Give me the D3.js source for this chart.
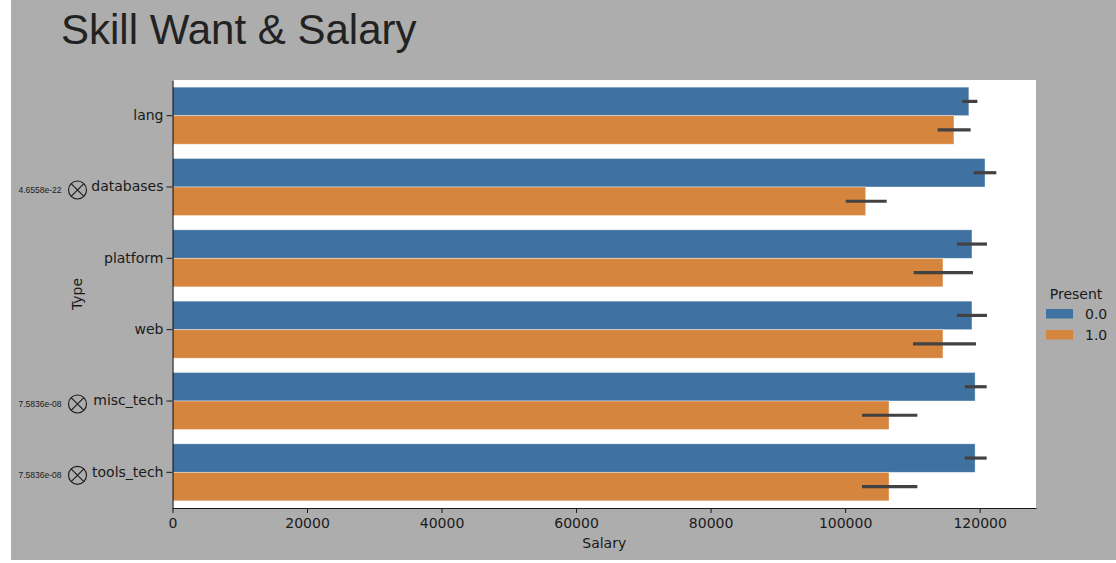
<!DOCTYPE html>
<html>
<head>
<meta charset="utf-8">
<script src="https://cdn.jsdelivr.net/npm/d3@7"></script>
<style>
  body { margin: 0; background: #ffffff; }
  svg text { font-family: "DejaVu Sans", sans-serif; fill: #1a1a1a; }
  .axis path, .axis line { stroke: #1a1a1a; }
</style>
</head>
<body>
<svg id="chart"></svg>
<script>
// DATA //////////////////////////////////////////////////////////////////
var categories = ["lang", "databases", "platform", "web", "misc_tech", "tools_tech"];
var presentLevels = ["0.0", "1.0"];
var salary_absent = [118400, 120800, 118860, 118860, 119330, 119330];
var ci_absent_lo = [117430, 119110, 116630, 116630, 117780, 117780];
var ci_absent_hi = [119660, 122480, 121090, 121090, 121050, 121050];
var salary_present = [116180, 103060, 114550, 114550, 106530, 106530];
var ci_present_lo = [113760, 100090, 110190, 110090, 102510, 102510];
var ci_present_hi = [118660, 106180, 119010, 119450, 110740, 110740];
var pvalues = [null, "4.6558e-22", null, null, "7.5836e-08", "7.5836e-08"];
var xTicks = [0, 20000, 40000, 60000, 80000, 100000, 120000];

// LAYOUT ////////////////////////////////////////////////////////////////
const WIDTH = 1116, HEIGHT = 563;
const PLOT_LEFT = 172.5, PLOT_TOP = 80, PLOT_RIGHT = 1036, PLOT_BOTTOM = 508;
const COLOURS = ["#3f72a0", "#d6853e"];

var svg = d3.select("#chart").attr("width", WIDTH).attr("height", HEIGHT);

// grey figure background
svg.append("rect").attr("x", 11).attr("y", 0).attr("width", WIDTH - 11).attr("height", 560)
    .attr("fill", "#adadad");

svg.append("text")
    .attr("x", 61).attr("y", 44)
    .style("font-family", "'Liberation Sans', Arial, sans-serif")
    .style("font-size", "42px")
    .style("fill", "#222")
    .text("Skill Want & Salary");

// plot area
svg.append("rect")
    .attr("x", PLOT_LEFT).attr("y", PLOT_TOP)
    .attr("width", PLOT_RIGHT - PLOT_LEFT).attr("height", PLOT_BOTTOM - PLOT_TOP)
    .attr("fill", "#ffffff");

var x = d3.scaleLinear().domain([0, 128380]).range([PLOT_LEFT, PLOT_RIGHT]);
var y = d3.scaleBand().domain(categories).range([PLOT_TOP, PLOT_BOTTOM]).paddingInner(0.2).paddingOuter(0.1);
var yInner = d3.scaleBand().domain(presentLevels).range([0, y.bandwidth()]);
var colour = d3.scaleOrdinal().domain(presentLevels).range(COLOURS);

var rows = categories.map(function (c, i) {
    return [
        { cat: c, level: "0.0", value: salary_absent[i], lo: ci_absent_lo[i], hi: ci_absent_hi[i] },
        { cat: c, level: "1.0", value: salary_present[i], lo: ci_present_lo[i], hi: ci_present_hi[i] }
    ];
});
var flat = [].concat.apply([], rows);

// bars
svg.append("g")
    .selectAll("rect")
    .data(flat)
    .enter().append("rect")
        .attr("x", x(0))
        .attr("y", function (d) { return y(d.cat) + yInner(d.level); })
        .attr("width", function (d) { return x(d.value) - x(0); })
        .attr("height", yInner.bandwidth())
        .attr("fill", function (d) { return colour(d.level); })
        .attr("stroke", "#ffffff")
        .attr("stroke-opacity", 0.5)
        .attr("stroke-width", 0.8);

// error bars
svg.append("g")
    .selectAll("line")
    .data(flat)
    .enter().append("line")
        .attr("x1", function (d) { return x(d.lo); })
        .attr("x2", function (d) { return x(d.hi); })
        .attr("y1", function (d) { return y(d.cat) + yInner(d.level) + yInner.bandwidth() / 2; })
        .attr("y2", function (d) { return y(d.cat) + yInner(d.level) + yInner.bandwidth() / 2; })
        .attr("stroke", "#424242")
        .attr("stroke-width", 3.2);

// X AXIS
var xAxis = svg.append("g")
    .attr("class", "axis")
    .attr("transform", "translate(0," + PLOT_BOTTOM + ")")
    .call(d3.axisBottom(x).tickValues(xTicks).tickFormat(d3.format("d")).tickSize(5).tickPadding(5).tickSizeOuter(0));
xAxis.select(".domain").attr("stroke-width", 1.2);
xAxis.selectAll("text").style("font-size", "14px").style("fill", "#1a1a1a");

svg.append("text")
    .attr("x", (PLOT_LEFT + PLOT_RIGHT) / 2).attr("y", 548)
    .attr("text-anchor", "middle")
    .style("font-size", "14px")
    .text("Salary");

// Y AXIS
var yAxis = svg.append("g")
    .attr("class", "axis")
    .attr("transform", "translate(" + PLOT_LEFT + ",0)")
    .call(d3.axisLeft(y).tickSize(6).tickPadding(3).tickSizeOuter(0));
yAxis.select(".domain").attr("stroke-width", 1.2);
yAxis.selectAll("text").style("font-size", "14px").style("fill", "#1a1a1a");

svg.append("text")
    .attr("transform", "translate(82," + ((PLOT_TOP + PLOT_BOTTOM) / 2) + ") rotate(-90)")
    .attr("text-anchor", "middle")
    .style("font-size", "14px")
    .text("Type");

// significance markers
var marks = svg.append("g")
    .selectAll("g")
    .data(categories.filter(function (c, i) { return pvalues[i]; }))
    .enter().append("g")
        .attr("transform", function (c) { return "translate(77.5," + (y(c) + y.bandwidth() / 2 + 3) + ")"; });

marks.append("circle").attr("r", 9).attr("fill", "none").attr("stroke", "#1a1a1a").attr("stroke-width", 1.1);
marks.append("path")
    .attr("d", "M-6.4,-6.4L6.4,6.4M-6.4,6.4L6.4,-6.4")
    .attr("stroke", "#1a1a1a").attr("stroke-width", 1.1);
marks.append("text")
    .attr("x", -16).attr("y", 3)
    .attr("text-anchor", "end")
    .style("font-family", "'Liberation Sans', Arial, sans-serif")
    .style("font-size", "8.5px")
    .text(function (c) { return pvalues[categories.indexOf(c)]; });

// LEGEND
var legend = svg.append("g").attr("transform", "translate(1046,294)");
legend.append("text").attr("x", 30).attr("y", 5).attr("text-anchor", "middle")
    .style("font-size", "14px").text("Present");
var items = legend.selectAll("g.item")
    .data(presentLevels)
    .enter().append("g")
        .attr("class", "item")
        .attr("transform", function (d, i) { return "translate(0," + (15 + i * 21) + ")"; });
items.append("rect").attr("width", 27).attr("height", 9.5)
    .attr("fill", function (d) { return colour(d); });
items.append("text").attr("x", 39).attr("y", 9.5)
    .style("font-size", "14px").text(function (d) { return d; });
</script>
</body>
</html>
